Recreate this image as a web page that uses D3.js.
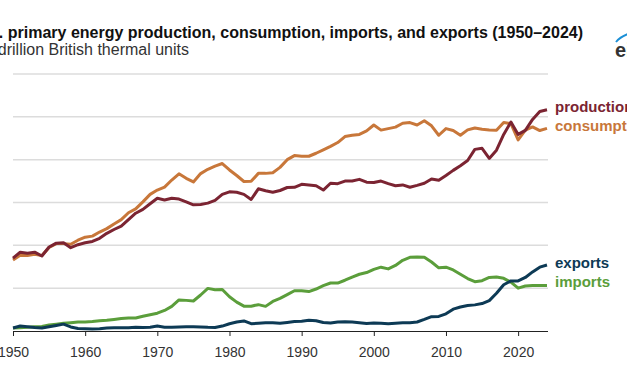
<!DOCTYPE html>
<html>
<head>
  <title>U.S. primary energy</title>
  <meta http-equiv="Content-Type" content="text/html; charset=UTF-8">
  <script src="https://cdn.jsdelivr.net/npm/d3@7"></script>
  <style>
    body { margin: 0; background: #fff; }
    svg { display: block; font-family: Arial, "Liberation Sans", sans-serif; }
  </style>
</head>
<body>
  <div id="chart"></div>
  <script type="text/javascript">
    // quadrillion Btu, 1950-2024
    var years = d3.range(1950, 2025);

    var production = [
      34.0, 36.8, 36.3, 36.8, 35.0, 39.2, 41.0, 41.2, 38.9, 40.3,
      41.2, 41.8, 43.3, 45.6, 47.4, 49.0, 52.0, 55.0, 56.8, 59.4,
      62.0, 61.2, 62.0, 61.6, 60.3, 58.9, 59.1, 59.7, 61.0, 63.8,
      65.0, 64.8, 63.8, 61.4, 66.4, 65.5, 64.8, 65.6, 67.0, 67.1,
      68.5, 68.2, 67.8, 65.8, 69.0, 68.8, 70.0, 70.0, 70.8, 69.5,
      69.3, 70.0, 68.8, 67.8, 68.2, 67.1, 68.0, 69.0, 71.0, 70.4,
      72.6, 75.0, 77.2, 79.6, 84.8, 85.3, 80.6, 84.4, 91.8, 97.6,
      91.8, 93.7, 98.8, 102.5, 103.3
    ];
    var consumption = [
      33.2, 35.4, 35.2, 35.8, 35.2, 39.0, 40.8, 40.8, 40.5, 42.4,
      43.8, 44.3, 46.2, 47.8, 50.0, 52.0, 55.2, 57.0, 60.3, 63.8,
      65.8, 67.2, 70.5, 73.4, 71.3, 69.6, 73.5, 75.5, 77.0, 78.2,
      75.2, 72.6, 69.8, 69.9, 73.6, 73.6, 73.9, 76.4, 80.0, 81.9,
      81.6, 81.6, 83.0, 84.6, 86.2, 88.0, 90.8, 91.4, 91.8, 93.4,
      96.2, 93.8, 94.5, 95.2, 97.0, 97.3, 96.2, 98.2, 95.8, 91.4,
      94.5, 93.6, 91.4, 93.9, 94.8, 94.2, 93.9, 93.7, 97.4, 96.8,
      89.2, 93.8, 95.3, 93.6, 94.6
    ];
    var imports = [
      1.4, 1.5, 1.7, 2.0, 2.1, 2.8, 3.2, 3.6, 3.9, 4.2,
      4.2, 4.4, 4.8, 5.0, 5.4, 5.8, 6.1, 6.1, 6.9, 7.6,
      8.3, 9.6, 11.5, 14.5, 14.3, 14.0, 16.8, 19.9, 19.3, 19.4,
      16.0, 13.5, 11.6, 11.6, 12.3, 11.5, 13.8, 15.2, 17.0, 18.8,
      18.8, 18.4, 19.6, 21.2, 22.4, 22.4, 23.7, 25.2, 26.5, 27.3,
      28.8, 29.8, 29.0, 30.6, 33.0, 34.4, 34.5, 34.4, 32.2, 29.5,
      29.8, 28.5, 26.5, 24.5, 23.0, 23.5, 25.0, 25.2, 24.6, 22.8,
      20.0, 21.0, 21.2, 21.2, 21.3
    ];
    var exports = [
      1.4, 2.3, 2.0, 1.6, 1.4, 2.0, 2.6, 3.2, 1.9, 1.2,
      1.1, 0.9, 1.1, 1.4, 1.5, 1.5, 1.5, 1.7, 1.6, 1.8,
      2.3, 1.8, 1.8, 1.9, 2.0, 2.0, 1.9, 1.7, 1.6, 2.3,
      3.4, 4.2, 4.7, 3.4, 3.6, 3.8, 3.8, 3.6, 4.0, 4.4,
      4.6, 5.0, 4.8, 4.0, 3.7, 4.2, 4.3, 4.2, 3.9, 3.5,
      3.7, 3.6, 3.4, 3.6, 3.8, 3.9, 4.2, 5.4, 6.7, 6.8,
      8.0, 10.2, 11.2, 11.9, 12.2, 12.8, 14.2, 17.6, 21.6, 23.4,
      23.4, 25.0, 27.6, 29.8, 30.8
    ];

    var xTicks = [1950, 1960, 1970, 1980, 1990, 2000, 2010, 2020];
    var yGrid = [20, 40, 60, 80, 100, 120];

    var seriesNames = ["production", "consumption", "exports", "imports"];
    var seriesData = [production, consumption, exports, imports];
    var colors = ["#7b2432", "#c8773a", "#0d3a55", "#5b9e3b"];
    var labelY = [112, 131, 268, 287];

    var W = 627, H = 376;
    var svg = d3.select("#chart").append("svg")
      .attr("width", W).attr("height", H);

    var x = d3.scaleLinear().domain([1950, 2024]).range([13, 547]);
    var y = d3.scaleLinear().domain([0, 120]).range([331, 74]);

    // title, partly cut off on the left like the source
    svg.append("text")
      .attr("x", 583).attr("y", 38)
      .attr("text-anchor", "end")
      .style("font-size", "16px").style("font-weight", "bold").style("fill", "#111")
      .text("U.S. primary energy production, consumption, imports, and exports (1950\u20132024)");
    svg.append("text")
      .attr("x", 189).attr("y", 55)
      .attr("text-anchor", "end")
      .style("font-size", "16px").style("fill", "#333")
      .text("quadrillion British thermal units");

    // eia logo, cut at the right edge
    svg.append("path")
      .attr("d", "M616,42 Q620,37 628,34")
      .style("fill", "none").style("stroke", "#1b8fd6").style("stroke-width", 2);
    svg.append("text")
      .attr("x", 615).attr("y", 57)
      .style("font-size", "20px").style("font-weight", "bold").style("fill", "#333")
      .text("eia");

    // gridlines
    svg.append("g").selectAll("line").data(yGrid).enter().append("line")
      .attr("x1", x(1950)).attr("x2", x(2024) + 1)
      .attr("y1", function(d) { return y(d); })
      .attr("y2", function(d) { return y(d); })
      .style("stroke", "#dcdcdc").style("stroke-width", 1.5);

    // x axis
    var xAxis = d3.axisBottom(x).tickValues(xTicks).tickFormat(d3.format("d"))
      .tickSize(5).tickPadding(11);
    var gx = svg.append("g").attr("transform", "translate(0," + y(0) + ")").call(xAxis);
    gx.select(".domain").attr("d", "M" + x(1950) + ",0.5H" + (x(2024) + 1))
      .style("stroke", "#222");
    gx.selectAll(".tick line").style("stroke", "#222");
    gx.selectAll(".tick text")
      .style("font-size", "14px").style("fill", "#333")
      .style("font-family", "Arial, 'Liberation Sans', sans-serif");

    var line = d3.line()
      .x(function(d, i) { return x(years[i]); })
      .y(function(d) { return y(d); });

    // draw order: imports/exports under production/consumption
    [3, 2, 1, 0].forEach(function(k) {
      svg.append("path")
        .datum(seriesData[k])
        .attr("d", line)
        .style("fill", "none")
        .style("stroke", colors[k])
        .style("stroke-width", 3)
        .style("stroke-linejoin", "round");
    });

    seriesNames.forEach(function(name, k) {
      svg.append("text")
        .attr("x", 555).attr("y", labelY[k])
        .style("font-size", "15px").style("font-weight", "bold")
        .style("fill", colors[k])
        .text(name);
    });
  </script>
</body>
</html>
